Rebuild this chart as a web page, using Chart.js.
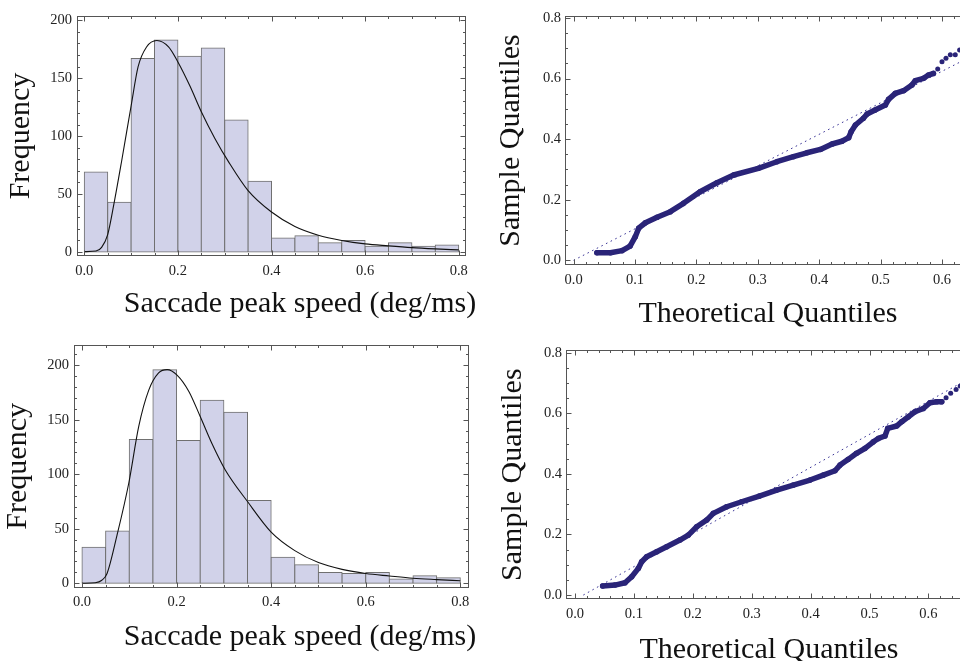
<!DOCTYPE html>
<html>
<head>
<meta charset="utf-8">
<script src="https://cdn.jsdelivr.net/npm/chart.js@4.4.1/dist/chart.umd.min.js"></script>
<style>
  html, body { margin: 0; padding: 0; background: #fff; width: 960px; height: 661px; overflow: hidden; }
  canvas { position: absolute; }
  #histTop { left: 0; top: 0; }
  #qqTop { left: 480px; top: 0; }
  #histBottom { left: 0; top: 330px; }
  #qqBottom { left: 480px; top: 330px; }
</style>
</head>
<body>
<canvas id="histTop" width="480" height="330"></canvas>
<canvas id="qqTop" width="560" height="330"></canvas>
<canvas id="histBottom" width="480" height="331"></canvas>
<canvas id="qqBottom" width="560" height="331"></canvas>
<script>
// histogram bins (left edges, width 0.05 deg/ms)
const binWidth = 0.05;
const binEdges = [0, 0.05, 0.1, 0.15, 0.2, 0.25, 0.3, 0.35, 0.4, 0.45, 0.5, 0.55, 0.6, 0.65, 0.7, 0.75];
const freqTop = [69, 43, 167, 183, 169, 176, 114, 61, 12, 14, 8, 10, 5, 8, 5, 6];
const freqBottom = [33, 48, 132, 196, 131, 168, 157, 76, 24, 17, 10, 9, 10, 4, 7, 5];

// fitted density curves
const fitTopX = [0, 0.025, 0.037, 0.05, 0.064, 0.08, 0.1, 0.115, 0.133, 0.155, 0.18, 0.2, 0.226, 0.25, 0.279, 0.308, 0.35, 0.4, 0.45, 0.5, 0.55, 0.6, 0.65, 0.7, 0.75, 0.8];
const fitTopY = [0.3, 0.8, 4, 15, 43, 79, 126, 160, 177, 182.5, 177, 164, 143, 121, 98, 78, 53, 34.5, 22, 14.5, 10, 7, 5.3, 3.8, 2.7, 1.8];
const fitBottomX = [0, 0.028, 0.042, 0.053, 0.074, 0.099, 0.12, 0.141, 0.162, 0.18, 0.201, 0.226, 0.25, 0.275, 0.303, 0.35, 0.4, 0.45, 0.5, 0.55, 0.6, 0.65, 0.7, 0.75, 0.8];
const fitBottomY = [0, 0.5, 2.8, 9, 44, 92, 144, 177, 193, 196, 191, 176, 153, 128, 104, 75, 47, 30, 19, 12.8, 9, 6.7, 4.6, 3.4, 2.4];

// Q-Q plots: dense body and the separated tail points
const qqTopX = [0.038, 0.06, 0.079, 0.092, 0.1005, 0.106, 0.117, 0.136, 0.1575, 0.179, 0.206, 0.2335, 0.2606, 0.301, 0.331, 0.358, 0.38, 0.402, 0.421, 0.437, 0.448, 0.452, 0.459, 0.472, 0.478, 0.491, 0.5077, 0.513, 0.524, 0.5375, 0.551, 0.5565, 0.57, 0.578, 0.586];
const qqTopY = [0.025, 0.025, 0.032, 0.047, 0.078, 0.106, 0.124, 0.142, 0.1605, 0.188, 0.2265, 0.256, 0.2816, 0.3037, 0.3255, 0.342, 0.355, 0.366, 0.384, 0.393, 0.405, 0.4246, 0.4467, 0.469, 0.483, 0.496, 0.5127, 0.5315, 0.551, 0.56, 0.5787, 0.593, 0.601, 0.6117, 0.617];
const qqTopTailX = [0.593, 0.6, 0.6065, 0.6135, 0.6216, 0.6287];
const qqTopTailY = [0.6316, 0.6557, 0.667, 0.679, 0.679, 0.694];
const refTopX = [0, 0.7];
const refTopY = [0, 0.728];

const qqBottomX = [0.047, 0.068, 0.0849, 0.0962, 0.1075, 0.1132, 0.1217, 0.1387, 0.1556, 0.178, 0.1924, 0.2066, 0.2236, 0.2348, 0.2575, 0.283, 0.313, 0.3424, 0.3706, 0.399, 0.4216, 0.4414, 0.45, 0.464, 0.478, 0.4924, 0.5065, 0.515, 0.5263, 0.531, 0.546, 0.5547, 0.566, 0.5772, 0.5914, 0.6027, 0.614, 0.6226];
const qqBottomY = [0.0297, 0.033, 0.0406, 0.0605, 0.088, 0.11, 0.1266, 0.143, 0.1595, 0.1816, 0.198, 0.2255, 0.2476, 0.2697, 0.2915, 0.308, 0.3268, 0.3466, 0.3632, 0.3797, 0.396, 0.4104, 0.429, 0.448, 0.468, 0.4843, 0.506, 0.517, 0.525, 0.5503, 0.558, 0.5722, 0.5887, 0.605, 0.616, 0.635, 0.638, 0.638];
const qqBottomTailX = [0.63, 0.6378, 0.647, 0.654];
const qqBottomTailY = [0.6514, 0.666, 0.679, 0.69];
const refBottomX = [0.0141, 0.7];
const refBottomY = [0, 0.749];

// tick labels
const histXTicks = [0, 0.2, 0.4, 0.6, 0.8];
const histYTicks = [0, 50, 100, 150, 200];
const qqXTicks = [0, 0.1, 0.2, 0.3, 0.4, 0.5, 0.6, 0.7];
const qqYTicks = [0, 0.2, 0.4, 0.6, 0.8];

const SERIF = '"Liberation Serif", "Times New Roman", serif';
const NAVY = '#2a2478';
const pts = (xs, ys) => xs.map((x, i) => ({ x: x, y: ys[i] }));

// Mathematica-style frame with inward ticks on all four sides
const frameTicks = {
  id: 'frameTicks',
  afterDatasetsDraw(chart, args, opts) {
    const { ctx, chartArea: a, scales: { x, y } } = chart;
    const L = Math.round(a.left) + 0.5, R = Math.round(a.right) - 0.5;
    const T = Math.round(a.top) + 0.5, B = Math.round(a.bottom) - 0.5;
    ctx.save();
    ctx.strokeStyle = '#555';
    ctx.lineWidth = 1;
    ctx.strokeRect(L, T, R - L, B - T);
    const marks = (scale, majors, step) => {
      const out = majors.map(v => [v, 5]);
      const k0 = Math.ceil(scale.min / step), k1 = Math.floor(scale.max / step);
      for (let k = k0; k <= k1; k++) {
        const v = Math.round(k * step * 1e6) / 1e6;
        if (!majors.some(m => Math.abs(m - v) < 1e-9)) out.push([v, 2.5]);
      }
      return out;
    };
    ctx.beginPath();
    marks(x, opts.xMajor, opts.xMinor).forEach(([v, len]) => {
      const px = Math.round(x.getPixelForValue(v)) + 0.5;
      ctx.moveTo(px, B); ctx.lineTo(px, B - len);
      ctx.moveTo(px, T); ctx.lineTo(px, T + len);
    });
    marks(y, opts.yMajor, opts.yMinor).forEach(([v, len]) => {
      const py = Math.round(y.getPixelForValue(v)) + 0.5;
      ctx.moveTo(L, py); ctx.lineTo(L + len, py);
      ctx.moveTo(R, py); ctx.lineTo(R - len, py);
    });
    ctx.stroke();
    ctx.restore();
  }
};

// horizontal axis title placed as in the figure
const xTitle = {
  id: 'xTitle',
  afterDraw(chart, args, opts) {
    const ctx = chart.ctx;
    ctx.save();
    ctx.font = '30px ' + SERIF;
    ctx.fillStyle = '#111';
    ctx.textAlign = 'center';
    ctx.textBaseline = 'alphabetic';
    ctx.fillText(opts.text, opts.x, opts.y);
    ctx.restore();
  }
};

function axis(range, ticks, fmt, pad, extra) {
  return Object.assign({
    type: 'linear',
    min: range[0],
    max: range[1],
    offset: false,
    grid: { display: false, drawTicks: false, offset: false },
    border: { display: false },
    afterBuildTicks: s => { s.ticks = ticks.map(v => ({ value: v })); },
    ticks: {
      autoSkip: false, maxRotation: 0, color: '#222', padding: pad,
      font: { family: SERIF, size: 14.5 },
      callback: fmt
    }
  }, extra);
}

function histogram(id, freq, fitX, fitY, lay) {
  return new Chart(document.getElementById(id), {
    type: 'bar',
    data: {
      datasets: [
        {
          type: 'line',
          data: pts(fitX, fitY),
          borderColor: '#111',
          borderWidth: 1.1,
          pointRadius: 0,
          cubicInterpolationMode: 'monotone',
          order: 0
        },
        {
          type: 'bar',
          data: binEdges.map((e, i) => ({ x: e + binWidth / 2, y: freq[i] })),
          backgroundColor: '#d1d2e9',
          borderColor: '#707070',
          borderWidth: 1,
          borderSkipped: false,
          inflateAmount: 0.5,
          barPercentage: 1,
          categoryPercentage: 1,
          order: 1
        }
      ]
    },
    options: {
      responsive: false,
      animation: false,
      devicePixelRatio: 1,
      layout: { padding: { top: lay.top, right: lay.right, left: 0, bottom: 0 } },
      plugins: {
        legend: { display: false },
        tooltip: { enabled: false },
        frameTicks: { xMajor: histXTicks, xMinor: 0.05, yMajor: histYTicks, yMinor: 10 },
        xTitle: { text: 'Saccade peak speed (deg/ms)', x: 300, y: lay.titleY }
      },
      scales: {
        x: axis(lay.x, histXTicks, v => v.toFixed(1), 6, {
          afterFit: s => { s.height = lay.xh; }
        }),
        y: axis(lay.y, histYTicks, v => String(v), 5, {
          afterFit: s => { s.width = lay.yw; },
          title: { display: true, text: 'Frequency', color: '#111', font: { family: SERIF, size: 30 }, padding: { top: lay.tpad, bottom: 0 } }
        })
      }
    },
    plugins: [frameTicks, xTitle]
  });
}

function qqPlot(id, bx, by, tx, ty, rx, ry, lay) {
  return new Chart(document.getElementById(id), {
    type: 'scatter',
    data: {
      datasets: [
        {
          type: 'line',
          data: pts(rx, ry),
          borderColor: '#3a3496',
          borderWidth: 1,
          borderDash: [1.6, 3.6],
          pointRadius: 0,
          order: 2
        },
        {
          type: 'line',
          data: pts(bx, by),
          borderColor: NAVY,
          backgroundColor: NAVY,
          borderWidth: 5.5,
          borderCapStyle: 'round',
          borderJoinStyle: 'round',
          pointRadius: 2.8,
          pointBorderWidth: 0,
          order: 1
        },
        {
          type: 'scatter',
          data: pts(tx, ty),
          backgroundColor: NAVY,
          pointRadius: 2.5,
          pointBorderWidth: 0,
          order: 0
        }
      ]
    },
    options: {
      responsive: false,
      animation: false,
      devicePixelRatio: 1,
      layout: { padding: { top: lay.top, right: lay.right, left: 0, bottom: 0 } },
      plugins: {
        legend: { display: false },
        tooltip: { enabled: false },
        frameTicks: { xMajor: qqXTicks, xMinor: 0.02, yMajor: qqYTicks, yMinor: 0.05 },
        xTitle: { text: 'Theoretical Quantiles', x: lay.titleX, y: lay.titleY }
      },
      scales: {
        x: axis(lay.x, qqXTicks, v => v.toFixed(1), 6, {
          afterFit: s => { s.height = lay.xh; }
        }),
        y: axis(lay.y, qqYTicks, v => v.toFixed(1), 4, {
          afterFit: s => { s.width = lay.yw; },
          title: { display: true, text: 'Sample Quantiles', color: '#111', font: { family: SERIF, size: 30 }, padding: { top: lay.tpad, bottom: 0 } }
        })
      }
    },
    plugins: [frameTicks, xTitle]
  });
}

histogram('histTop', freqTop, fitTopX, fitTopY, {
  top: 16, right: 14, xh: 74, yw: 77, tpad: 3, titleY: 312,
  x: [-0.0156, 0.8156], y: [-3.45, 203.7]
});
histogram('histBottom', freqBottom, fitBottomX, fitBottomY, {
  top: 15, right: 11, xh: 73.3, yw: 74, tpad: 0, titleY: 315,
  x: [-0.0169, 0.8184], y: [-4.04, 218.6]
});
qqPlot('qqTop', qqTopX, qqTopY, qqTopTailX, qqTopTailY, refTopX, refTopY, {
  top: 15.7, right: 36.6, xh: 64.7, yw: 85, tpad: 13.5, titleX: 288, titleY: 322,
  x: [-0.014, 0.7], y: [-0.0165, 0.8076]
});
qqPlot('qqBottom', qqBottomX, qqBottomY, qqBottomTailX, qqBottomTailY, refBottomX, refBottomY, {
  top: 20, right: 52.7, xh: 61.7, yw: 86, tpad: 15, titleX: 289, titleY: 327.5,
  x: [-0.0153, 0.7], y: [-0.014, 0.809]
});
</script>
</body>
</html>
